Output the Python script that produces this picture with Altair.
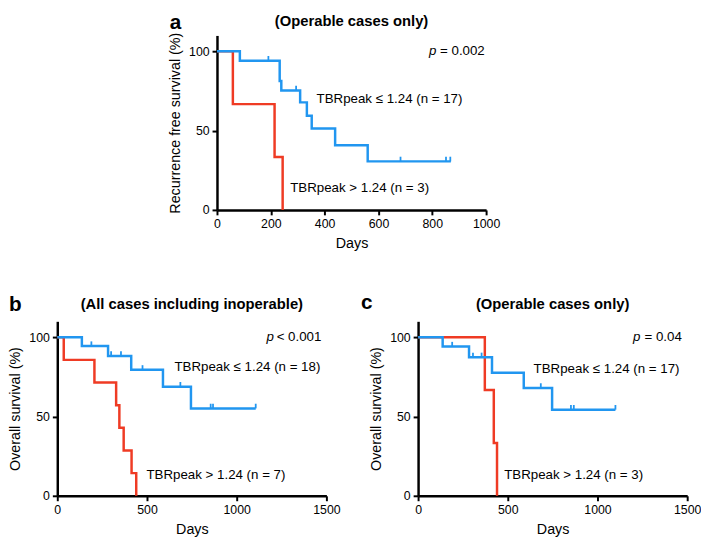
import altair as alt
import pandas as pd

BLUE = "#2196f0"
RED = "#ef3b24"
FONT = "Liberation Sans"

# ---------------- data ----------------
# Panel a: recurrence-free survival, operable cases only
A_BLUE_T = [0, 85, 233, 239, 309, 334, 352, 439, 560, 869]
A_BLUE_S = [100, 94.1, 81.3, 75.3, 67.8, 59.4, 51.3, 40.8, 30.6, 30.6]
A_BLUE_CENS = [191, 294, 682, 851, 867]
A_RED_T = [0, 59, 214, 244]
A_RED_S = [100, 66.7, 33.3, 0]

# Panel b: overall survival, all cases including inoperable
B_BLUE_T = [0, 137, 283, 412, 589, 745, 1106]
B_BLUE_S = [100, 94.4, 88.2, 79.4, 68.8, 55.1, 55.1]
B_BLUE_CENS = [190, 300, 355, 475, 686, 855, 868, 1106]
B_RED_T = [0, 36, 207, 328, 346, 370, 414, 440]
B_RED_S = [100, 85.7, 71.4, 57.1, 42.9, 28.6, 14.3, 0]

# Panel c: overall survival, operable cases only
C_BLUE_T = [0, 137, 284, 412, 589, 747, 1100]
C_BLUE_S = [100, 94.1, 87.3, 77.6, 68.0, 54.3, 54.3]
C_BLUE_CENS = [190, 306, 354, 684, 852, 868, 1100]
C_RED_T = [0, 372, 422, 440]
C_RED_S = [100, 66.7, 33.3, 0]

Y_TICKS = [0, 50, 100]
A_X_TICKS = [0, 200, 400, 600, 800, 1000]
BC_X_TICKS = [0, 500, 1000, 1500]

W, H = 273, 177


def level_at(t, times, surv):
    s = surv[0]
    for ti, si in zip(times, surv):
        if ti <= t:
            s = si
    return s


def panel(letter, title, ytitle, xmax, xticks,
          bt, bs, cens, rt, rs,
          p_sym, p_rest, p_x, p_sym_x,
          blue_lab, blue_xy, red_lab, red_xy,
          letter_dx, letter_dy, title_dy):
    xs = alt.Scale(domain=[0, xmax], nice=False, zero=True)
    ys = alt.Scale(domain=[0, 110], nice=False)
    xax = alt.Axis(values=xticks, title="Days", labelFlush=False, format="d")
    yax = alt.Axis(values=Y_TICKS, title=ytitle, format="d")

    red_df = pd.DataFrame({"t": rt, "s": rs})
    blue_df = pd.DataFrame({"t": bt, "s": bs})
    cens_df = pd.DataFrame({"t": cens, "s": [level_at(c, bt, bs) for c in cens]})

    enc = dict(x=alt.X("t:Q", scale=xs, axis=xax), y=alt.Y("s:Q", scale=ys, axis=yax))

    red = alt.Chart(red_df).mark_line(interpolate="step-after", strokeWidth=2.5, color=RED).encode(**enc)
    blue = alt.Chart(blue_df).mark_line(interpolate="step-after", strokeWidth=2.5, color=BLUE).encode(**enc)
    ticks = alt.Chart(cens_df).mark_point(shape="M0,-1L0,0", size=90, filled=False,
                                          strokeWidth=1.8, color=BLUE, opacity=1).encode(**enc)

    lab_df = pd.DataFrame({"t": [blue_xy[0], red_xy[0]], "s": [blue_xy[1], red_xy[1]],
                           "txt": [blue_lab, red_lab]})
    labs = alt.Chart(lab_df).mark_text(align="left", baseline="middle", fontSize=13.5,
                                       font=FONT, color="black").encode(text="txt:N", **enc)

    p1 = alt.Chart(pd.DataFrame({"t": [p_x], "s": [100], "txt": [p_rest]})).mark_text(
        align="right", baseline="middle", fontSize=13.5, font=FONT, color="black").encode(
        text="txt:N", **enc)
    p2 = alt.Chart(pd.DataFrame({"t": [p_sym_x], "s": [100], "txt": [p_sym]})).mark_text(
        align="right", baseline="middle", fontSize=13.5, font=FONT, fontStyle="italic",
        color="black").encode(text="txt:N", **enc)

    let = alt.Chart(pd.DataFrame({"txt": [letter]})).mark_text(
        align="left", baseline="alphabetic", fontSize=21, fontWeight="bold", font=FONT,
        color="black").encode(x=alt.value(letter_dx), y=alt.value(letter_dy), text="txt:N")
    tit = alt.Chart(pd.DataFrame({"txt": [title]})).mark_text(
        align="center", baseline="alphabetic", fontSize=15, fontWeight="bold", font=FONT,
        color="black").encode(x=alt.value(W / 2), y=alt.value(title_dy), text="txt:N")

    return alt.layer(red, blue, ticks, labs, p1, p2, let, tit).properties(width=W, height=H)


pa = panel("a", "(Operable cases only)", "Recurrence free survival (%)", 1000, A_X_TICKS,
           A_BLUE_T, A_BLUE_S, A_BLUE_CENS, A_RED_T, A_RED_S,
           "p", "= 0.002", 995, 815,
           "TBRpeak ≤ 1.24 (n = 17)", (370, 70), "TBRpeak > 1.24 (n = 3)", (272, 14),
           -48, -7, -10)
pb = panel("b", "(All cases including inoperable)", "Overall survival (%)", 1500, BC_X_TICKS,
           B_BLUE_T, B_BLUE_S, B_BLUE_CENS, B_RED_T, B_RED_S,
           "p", "< 0.001", 1472, 1208,
           "TBRpeak ≤ 1.24 (n = 18)", (653, 81), "TBRpeak > 1.24 (n = 7)", (497, 13),
           -49, -10, -12)
pc = panel("c", "(Operable cases only)", "Overall survival (%)", 1500, BC_X_TICKS,
           C_BLUE_T, C_BLUE_S, C_BLUE_CENS, C_RED_T, C_RED_S,
           "p", "= 0.04", 1470, 1239,
           "TBRpeak ≤ 1.24 (n = 17)", (644, 80), "TBRpeak > 1.24 (n = 3)", (480, 13),
           -58, -12, -12)

# empty spacer view that pushes panel a to the right
spacer = alt.Chart(pd.DataFrame({"v": [0]})).mark_point(opacity=0).encode(
    x=alt.value(0), y=alt.value(0)).properties(width=112, height=10)

top = alt.hconcat(spacer, pa, spacing=0)
bottom = alt.hconcat(pb, pc, spacing=21)
chart = alt.vconcat(top, bottom, spacing=43).properties(
    padding=0
).configure_view(stroke=None).configure_axis(
    domainColor="black", domainWidth=2.5, tickColor="black", tickWidth=2, tickSize=5,
    labelColor="black", labelFont=FONT, labelFontSize=12.5, labelPadding=3,
    titleColor="black", titleFont=FONT, titleFontSize=14.5, titleFontWeight="normal",
    titlePadding=7, grid=False
).configure_axisY(titlePadding=6)

chart.save("out.html", embed_options={"renderer": "svg", "actions": False})
